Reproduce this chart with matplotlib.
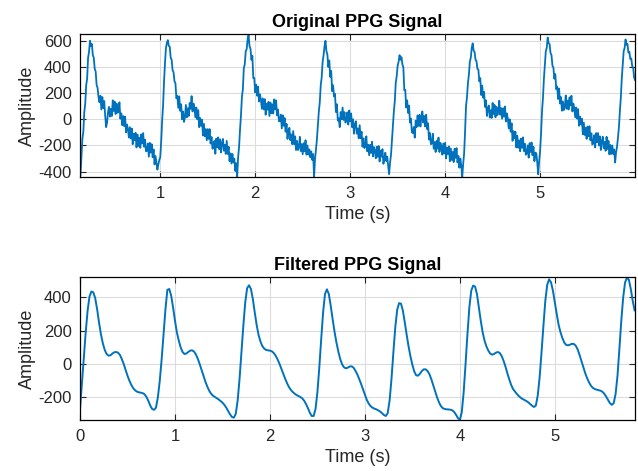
import numpy as np
import matplotlib
matplotlib.use('Agg')
import matplotlib.pyplot as plt

# Raw PPG samples, 0.01 s apart starting at t = 0.16 s
orig_t0 = 0.16
orig_dt = 0.01
orig_vals = [
    -425, -290, -150, -95, 55, 120, 260, 310, 470, 515,
    600, 560, 575, 490, 470, 385, 365, 262, 240, 170,
    130, 180, 75, 170, 85, 140, 30, -60, -25, 55,
    95, 20, 80, 25, 145, 63, 135, 40, 120, 50,
    60, 130, 5, 45, -45, 25, -53, 20, -100, -40,
    -75, -140, -60, -147, -70, -190, -110, -160, -103, -215,
    -117, -204, -141, -218, -115, -185, -105, -210, -155, -245,
    -240, -185, -285, -180, -255, -190, -290, -230, -345, -280,
    -330, -385, -345, -310, -290, -170, -10, 110, 290, 430,
    545, 585, 605, 560, 555, 470, 455, 375, 360, 290,
    275, 160, 180, 87, 175, 65, 115, 0, 60, -20,
    15, 110, 15, 85, 25, 125, 80, 177, 60, 120,
    85, 15, 90, 0, 70, -60, 10, -50, -3, -124,
    -35, -130, -75, -160, -75, -150, -75, -185, -135, -225,
    -220, -165, -263, -148, -213, -138, -228, -153, -253, -180,
    -150, -240, -195, -265, -165, -265, -210, -320, -260, -338,
    -265, -330, -300, -395, -335, -440, -290, -210, -80, 30,
    170, 230, 390, 420, 520, 535, 610, 645, 560, 540,
    455, 485, 315, 315, 205, 265, 180, 250, 135, 190,
    150, 80, 160, 75, 154, 35, 118, 73, 134, 25,
    128, 46, 115, 44, 152, 75, 145, 30, 75, -15,
    -15, 35, -70, 30, -50, 10, -95, -35, -150, -90,
    -65, -160, -115, -190, -90, -190, -130, -235, -165, -235,
    -215, -134, -243, -190, -267, -183, -245, -160, -270, -200,
    -270, -230, -290, -245, -310, -265, -440, -300, -230, -150,
    -40, 60, 130, 260, 320, 440, 490, 560, 600, 520,
    495, 400, 450, 324, 370, 215, 260, 175, 195, 55,
    115, -10, 7, -60, 55, 0, 90, -5, 55, -25,
    -10, 53, -40, 68, -15, 45, -60, 0, -110, -40,
    -15, -110, -70, -145, -45, -145, -95, -210, -145, -220,
    -205, -130, -245, -195, -275, -195, -257, -172, -283, -212,
    -241, -298, -210, -287, -205, -322, -239, -286, -228, -340,
    -300, -255, -320, -285, -350, -420, -330, -270, -160, -50,
    60, 140, 280, 330, 410, 440, 490, 455, 475, 420,
    395, 222, 225, 90, 145, 49, 105, -25, 5, -100,
    -105, -59, -140, -10, -60, 30, -50, 35, -55, 25,
    60, -25, 25, -55, 35, -75, -30, -155, -105, -190,
    -185, -110, -225, -175, -250, -165, -225, -140, -250, -180,
    -210, -270, -185, -262, -180, -298, -216, -265, -207, -320,
    -223, -311, -249, -327, -225, -295, -220, -330, -280, -370,
    -300, -355, -440, -340, -260, -90, 100, 170, 275, 340,
    440, 470, 545, 580, 525, 515, 455, 445, 385, 380,
    290, 315, 185, 258, 165, 210, 95, 145, 25, 80,
    105, 13, 70, 10, 125, 40, 110, 15, 95, 32,
    57, 142, 35, 85, 5, 85, 20, 98, -17, 45,
    5, -70, 0, -95, -30, -164, -90, -145, -95, -215,
    -125, -218, -161, -244, -147, -218, -138, -243, -187, -271,
    -260, -199, -293, -182, -250, -177, -275, -210, -320, -255,
    -260, -330, -420, -320, -240, -110, 60, 160, 310, 410,
    520, 545, 625, 580, 575, 505, 490, 410, 395, 310,
    345, 230, 250, 155, 235, 120, 170, 65, 137, 70,
    95, 182, 80, 143, 75, 167, 105, 180, 60, 120,
    85, 15, 90, 5, 78, -50, 20, -40, 5, -115,
    -25, -120, -65, -150, -55, -129, -53, -160, -107, -193,
    -182, -121, -215, -105, -175, -105, -200, -130, -235, -166,
    -133, -220, -173, -241, -134, -227, -165, -268, -196, -265,
    -200, -265, -230, -330, -250, -210, -140, -60, 60, 165,
    310, 410, 520, 545, 610, 570, 575, 510, 515, 460,
    465, 405, 395, 320, 300,
]

# Filtered PPG samples, 0.02 s apart starting at t = 0
filt_dt = 0.02
filt_vals = [
    -272, -120, 40, 190, 320, 405, 435, 430, 395, 330,
    250, 180, 125, 85, 60, 50, 52, 62, 70, 72,
    68, 55, 30, 0, -35, -70, -100, -125, -145, -158,
    -166, -170, -172, -175, -182, -198, -222, -250, -270, -275,
    -262, -200, -100, 30, 180, 330, 445, 450, 410, 340,
    260, 190, 140, 100, 72, 60, 63, 72, 80, 82,
    75, 58, 32, 0, -35, -70, -105, -135, -160, -178,
    -190, -198, -205, -213, -222, -232, -245, -262, -282, -302,
    -318, -322, -300, -220, -90, 70, 230, 370, 455, 472,
    450, 390, 310, 235, 175, 135, 108, 92, 84, 82,
    80, 76, 66, 50, 28, 2, -28, -58, -88, -115,
    -138, -155, -168, -178, -186, -192, -198, -206, -220, -240,
    -265, -292, -312, -312, -270, -170, -20, 150, 310, 420,
    448, 420, 350, 270, 195, 130, 75, 30, -2, -20,
    -26, -22, -15, -14, -22, -40, -62, -90, -120, -152,
    -185, -215, -238, -253, -262, -268, -272, -278, -285, -295,
    -306, -312, -295, -220, -90, 70, 220, 325, 365, 362,
    320, 250, 175, 105, 45, -5, -45, -68, -70, -58,
    -42, -32, -32, -42, -62, -92, -128, -165, -200, -230,
    -252, -265, -270, -272, -273, -274, -278, -288, -305, -325,
    -336, -290, -170, 0, 180, 340, 440, 470, 465, 420,
    340, 260, 190, 140, 105, 80, 62, 56, 60, 68,
    72, 66, 48, 20, -15, -55, -92, -125, -150, -165,
    -180, -192, -202, -210, -216, -222, -230, -240, -250, -258,
    -250, -190, -80, 70, 230, 380, 475, 508, 490, 440,
    370, 300, 235, 190, 155, 128, 114, 112, 116, 121,
    120, 110, 88, 55, 18, -20, -55, -85, -110, -130,
    -143, -150, -154, -157, -160, -166, -178, -195, -215, -235,
    -245, -235, -180, -70, 90, 260, 400, 490, 518, 505,
    450, 380, 322,
]

orig_t = orig_t0 + orig_dt * np.arange(len(orig_vals))
filt_t = filt_dt * np.arange(len(filt_vals))

plt.rcParams['font.family'] = ['Liberation Sans', 'DejaVu Sans']
plt.rcParams['axes.unicode_minus'] = False
line_col = '#0072BD'
txt_col = '#262626'

fig = plt.figure(figsize=(6.38, 4.71), dpi=100)
ax1 = fig.add_axes([0.1254, 0.6236, 0.8700, 0.3043])
ax2 = fig.add_axes([0.1254, 0.1076, 0.8700, 0.3036])


def style(ax):
    ax.grid(True, color='#dcdcdc', linewidth=0.8)
    ax.set_axisbelow(True)
    ax.tick_params(direction='in', top=True, right=True, length=4,
                   width=0.8, labelsize=12, colors=txt_col, pad=6)
    for s in ax.spines.values():
        s.set_linewidth(0.9)
        s.set_color('black')
    ax.set_xlabel('Time (s)', fontsize=13, color=txt_col, labelpad=4)
    ax.set_ylabel('Amplitude', fontsize=13, color=txt_col, labelpad=2)


ax1.plot(orig_t, orig_vals, color=line_col, linewidth=1.3)
ax1.set_xlim(0.155, 6.0)
ax1.set_ylim(-443, 652)
ax1.set_xticks([1, 2, 3, 4, 5])
ax1.set_yticks([-400, -200, 0, 200, 400, 600])
ax1.set_title('Original PPG Signal', fontsize=13, fontweight='bold', pad=5)
style(ax1)

ax2.plot(filt_t, filt_vals, color=line_col, linewidth=1.4)
ax2.set_xlim(0, 5.845)
ax2.set_ylim(-338, 520)
ax2.set_xticks([0, 1, 2, 3, 4, 5])
ax2.set_yticks([-200, 0, 200, 400])
ax2.set_title('Filtered PPG Signal', fontsize=13, fontweight='bold', pad=5)
style(ax2)

plt.savefig('out.png', dpi=100)
plt.close()
